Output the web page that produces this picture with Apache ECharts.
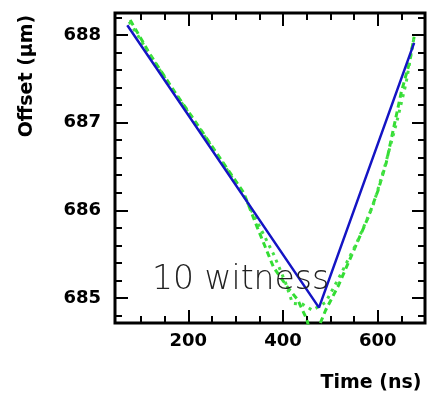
<!DOCTYPE html>
<html>
<head>
<meta charset="utf-8">
<script src="https://cdn.jsdelivr.net/npm/echarts@6/dist/echarts.min.js"></script>
<style>
html,body{margin:0;padding:0;background:#fff;}
#chart{width:427px;height:394px;}
</style>
</head>
<body>
<div id="chart"></div>
<script>
// ---- data ----
var xMajorTicks = [200, 400, 600];
var xMinorTicks = [100, 150, 250, 300, 350, 450, 500, 550, 650];
var yMajorTicks = [685, 686, 687, 688];
var yMinorTicks = [684.8, 685.2, 685.4, 685.6, 685.8, 686.2, 686.4, 686.6, 686.8, 687.2, 687.4, 687.6, 687.8, 688.2];

// blue fit line
var fitTime   = [71, 476, 677];
var fitOffset = [688.11, 684.89, 687.91];

// green dashed curve (outer)
var witnessATime   = [77, 120, 170, 220, 270, 317, 346, 380, 410, 431, 450, 458, 470, 490, 516, 550, 580, 601, 618, 633, 650, 667, 677];
var witnessAOffset = [688.17, 687.77, 687.36, 686.97, 686.57, 686.20, 685.80, 685.35, 685.12, 684.98, 684.76, 684.60, 684.60, 684.86, 685.13, 685.55, 685.92, 686.23, 686.54, 686.92, 687.35, 687.68, 687.98];

// green dotted curve (inner)
var witnessBTime   = [75, 125, 175, 225, 275, 320, 350, 380, 405, 420, 441, 462, 490, 520, 555, 590, 615, 640, 660, 677];
var witnessBOffset = [688.15, 687.72, 687.31, 686.92, 686.52, 686.14, 685.82, 685.50, 685.18, 684.94, 684.93, 684.86, 684.95, 685.25, 685.62, 686.05, 686.50, 687.00, 687.45, 687.98];

var annotation = '10 witness';
var xTitle = 'Time (ns)';
var yTitle = 'Offset (\u03bcm)';

function pairs(xs, ys) { return xs.map(function (x, i) { return [x, ys[i]]; }); }

var chart = echarts.init(document.getElementById('chart'), null, {renderer: 'canvas'});

var X_MIN = 45, X_MAX = 700, Y_MIN = 684.715, Y_MAX = 688.25;
var labelFont = {fontFamily: 'DejaVu Sans', fontWeight: 'bold', fontSize: 18, color: '#000'};

function xAx(pos, ticks, len, labels) {
  return {
    type: 'value', position: pos, min: X_MIN, max: X_MAX,
    axisLine: {show: false},
    splitLine: {show: false},
    axisTick: {show: true, inside: true, length: len, customValues: ticks, lineStyle: {color: '#000', width: 2}},
    axisLabel: labels ? Object.assign({show: true, customValues: ticks, margin: 9}, labelFont) : {show: false}
  };
}
function yAx(pos, ticks, len, labels) {
  return {
    type: 'value', position: pos, min: Y_MIN, max: Y_MAX,
    axisLine: {show: false},
    splitLine: {show: false},
    axisTick: {show: true, inside: true, length: len, customValues: ticks, lineStyle: {color: '#000', width: 2}},
    axisLabel: labels ? Object.assign({show: true, customValues: ticks, margin: 14, formatter: function (v) { return Math.round(v); }}, labelFont) : {show: false}
  };
}

var option = {
  backgroundColor: '#fff',
  animation: false,
  grid: {left: 115, top: 13, right: 2, bottom: 71, show: true, borderColor: '#000', borderWidth: 3, backgroundColor: 'transparent', containLabel: false},
  xAxis: [
    xAx('bottom', xMajorTicks, 13, true),
    xAx('bottom', xMinorTicks, 7, false),
    xAx('top', xMajorTicks, 13, false),
    xAx('top', xMinorTicks, 7, false)
  ],
  yAxis: [
    yAx('left', yMajorTicks, 13, true),
    yAx('left', yMinorTicks, 7, false),
    yAx('right', yMajorTicks, 13, false),
    yAx('right', yMinorTicks, 7, false)
  ],
  series: [
    {
      type: 'line', xAxisIndex: 0, yAxisIndex: 0, symbol: 'none', clip: true,
      data: pairs(witnessATime, witnessAOffset),
      lineStyle: {color: '#33dd33', width: 3, type: [6, 4]}, z: 2
    },
    {
      type: 'line', xAxisIndex: 0, yAxisIndex: 0, symbol: 'none', clip: true,
      data: pairs(witnessBTime, witnessBOffset),
      lineStyle: {color: '#44e044', width: 3, type: [3, 5]}, z: 2
    },
    {
      type: 'line', xAxisIndex: 0, yAxisIndex: 0, symbol: 'none', clip: true,
      data: pairs(fitTime, fitOffset),
      lineStyle: {color: '#1414c4', width: 2.5}, z: 3
    }
  ],
  graphic: [
    {type: 'text', left: 152, top: 264, z: 10,
     style: {text: annotation, fontFamily: 'DejaVu Sans', fontWeight: 200, fontSize: 33, fill: '#222'}},
    {type: 'text', x: 371, y: 383, z: 10,
     style: {text: xTitle, align: 'center', verticalAlign: 'middle', fontFamily: 'DejaVu Sans', fontWeight: 'bold', fontSize: 19, fill: '#000'}},
    {type: 'text', x: 27, y: 76, rotation: Math.PI / 2, z: 10,
     style: {text: yTitle, align: 'center', verticalAlign: 'middle', fontFamily: 'DejaVu Sans', fontWeight: 'bold', fontSize: 19, fill: '#000'}}
  ]
};
chart.setOption(option);
</script>
</body>
</html>
